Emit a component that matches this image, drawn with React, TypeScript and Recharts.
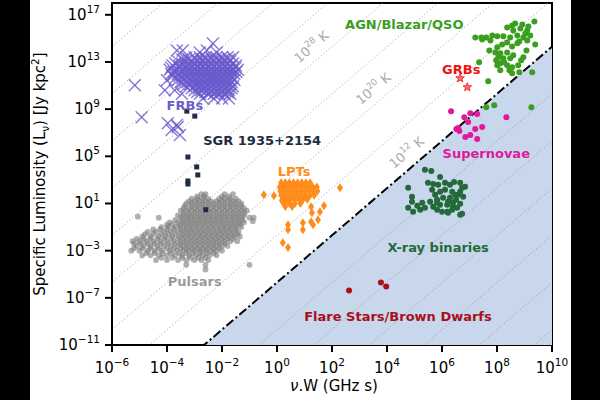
import { ScatterChart, Scatter, XAxis, YAxis, ReferenceArea } from 'recharts'

type P = [number, number]
type Row = [number, number[]]

// axis ticks
const xTicks = [1e-6, 1e-4, 1e-2, 1, 1e2, 1e4, 1e6, 1e8, 1e10]
const yTicks = [1e-11, 1e-7, 1e-3, 1e1, 1e5, 1e9, 1e13, 1e17]

// brightness temperature guides: log10(L) = offset + 2 log10(vW)
const tbOffsets = [-29.7, -25.7, -21.7, -17.7, -13.7, -9.7, -1.7, 2.3, 6.3, 10.3, 14.3, 18.3, 22.3, 26.3]
const coherentOffset = -5.7

// all values below are [log10(vW), log10(L)], rows are [log10(L), log10(vW)[]]
const frbRows: Row[] = [
  [14.57, [-2.33]],
  [13.98, [-3.64, -3.43, -2.55]],
  [13.8, [-2.81, -2.19]],
  [13.4, [-3.3, -3.0, -2.8, -2.6, -2.4, -2.2, -2.0, -1.8, -1.6]],
  [13.22, [-3.45, -3.2, -2.95, -2.75, -2.55, -2.35, -2.15, -1.95, -1.75]],
  [13.05, [-3.6, -3.35, -3.1, -2.9, -2.7, -2.5, -2.3, -2.1, -1.9, -1.7]],
  [12.87, [-3.7, -3.45, -3.2, -3.0, -2.8, -2.6, -2.4, -2.2, -2.0, -1.8, -1.6]],
  [12.7, [-3.8, -3.55, -3.3, -3.1, -2.9, -2.7, -2.5, -2.3, -2.1, -1.9, -1.7, -1.5]],
  [12.52, [-3.85, -3.55, -3.3, -3.1, -2.9, -2.7, -2.5, -2.3, -2.1, -1.9, -1.7, -1.5]],
  [12.35, [-3.9, -3.65, -3.4, -3.2, -3.0, -2.8, -2.6, -2.4, -2.2, -2.0, -1.8, -1.6, -1.42]],
  [12.17, [-3.75, -3.5, -3.25, -3.05, -2.85, -2.65, -2.45, -2.25, -2.05, -1.85, -1.65, -1.48]],
  [12.0, [-3.85, -3.6, -3.35, -3.15, -2.95, -2.75, -2.55, -2.35, -2.15, -1.95, -1.75, -1.55]],
  [11.82, [-3.8, -3.55, -3.3, -3.1, -2.9, -2.7, -2.5, -2.3, -2.1, -1.9, -1.7]],
  [11.65, [-3.7, -3.45, -3.2, -3.0, -2.8, -2.6, -2.4, -2.2, -2.0, -1.8, -1.6]],
  [11.47, [-3.6, -3.35, -3.1, -2.9, -2.7, -2.5, -2.3, -2.1, -1.9, -1.7, -1.55]],
  [11.3, [-3.5, -3.25, -3.05, -2.85, -2.65, -2.45, -2.25, -2.05, -1.85, -1.65]],
  [11.12, [-3.4, -3.15, -2.9, -2.7, -2.5, -2.3, -2.1, -1.9, -1.7]],
  [10.95, [-3.3, -3.0, -2.8, -2.6, -2.4, -2.2, -2.0, -1.8, -1.6]],
  [10.77, [-3.1, -2.85, -2.65, -2.45, -2.25, -2.05, -1.85, -1.65]],
  [10.6, [-4.08, -3.72, -3.0, -2.75, -2.55, -2.35, -2.15, -1.95, -1.75]],
  [10.45, [-2.9, -2.6, -2.4, -2.2, -2.0, -1.8]],
  [10.3, [-3.46, -2.8, -2.5, -2.3, -2.1, -1.9, -1.7]],
  [9.9, [-2.7, -2.3, -2.0, -1.75]],
]
const frbOutliers: P[] = [
  [-4.0, 11.45], [-5.17, 11.03], [-4.92, 8.32], [-3.97, 7.81], [-3.64, 7.65], [-3.83, 7.23], [-3.53, 6.81], [-3.61, 7.48],
]

const pulsarRows: Row[] = [
  [1.8, [-2.75, -2.6, -1.9, -1.6]],
  [1.6, [-2.9, -2.65, -2.0, -1.75]],
  [1.4, [-3.1, -2.9, -2.7, -2.5, -2.1, -1.9, -1.7, -1.5]],
  [1.2, [-3.2, -3.0, -2.8, -2.6, -2.4, -2.2, -2.0, -1.8, -1.6, -1.4]],
  [1.0, [-3.3, -3.1, -2.9, -2.7, -2.5, -2.3, -2.1, -1.9, -1.7, -1.5, -1.3]],
  [0.8, [-3.35, -3.1, -2.9, -2.7, -2.5, -2.3, -2.1, -1.9, -1.7, -1.5, -1.3]],
  [0.6, [-3.4, -3.2, -3.0, -2.8, -2.6, -2.4, -2.2, -2.0, -1.8, -1.6, -1.4, -1.2]],
  [0.4, [-3.5, -3.3, -3.1, -2.9, -2.7, -2.5, -2.3, -2.1, -1.9, -1.7, -1.5, -1.3, -1.1]],
  [0.2, [-3.4, -3.2, -3.0, -2.8, -2.6, -2.4, -2.2, -2.0, -1.8, -1.6, -1.4, -1.2]],
  [0.0, [-3.6, -3.4, -3.2, -3.0, -2.8, -2.6, -2.4, -2.2, -2.0, -1.8, -1.6, -1.4, -1.2]],
  [-0.2, [-4.3, -3.5, -3.3, -3.1, -2.9, -2.7, -2.5, -2.3, -2.1, -1.9, -1.7, -1.5, -1.3, -1.0, -0.85]],
  [-0.4, [-3.7, -3.45, -3.25, -3.05, -2.85, -2.65, -2.45, -2.25, -2.05, -1.85, -1.65, -1.45, -1.25]],
  [-0.6, [-3.9, -3.6, -3.4, -3.2, -3.0, -2.8, -2.6, -2.4, -2.2, -2.0, -1.8, -1.6, -1.4, -1.2]],
  [-0.8, [-4.0, -3.8, -3.55, -3.35, -3.15, -2.95, -2.75, -2.55, -2.35, -2.15, -1.95, -1.75, -1.55, -1.35]],
  [-1.0, [-4.2, -3.95, -3.7, -3.5, -3.3, -3.1, -2.9, -2.7, -2.5, -2.3, -2.1, -1.9, -1.7, -1.5, -1.3]],
  [-1.2, [-4.5, -4.25, -4.0, -3.75, -3.5, -3.3, -3.1, -2.9, -2.7, -2.5, -2.3, -2.1, -1.9, -1.7, -1.5]],
  [-1.4, [-4.7, -4.4, -4.1, -3.85, -3.6, -3.4, -3.2, -3.0, -2.8, -2.6, -2.4, -2.2, -2.0, -1.8, -1.6, -1.4]],
  [-1.6, [-4.8, -4.5, -4.2, -3.95, -3.7, -3.45, -3.25, -3.05, -2.85, -2.65, -2.45, -2.25, -2.05, -1.85, -1.65, -1.45]],
  [-1.8, [-4.9, -4.6, -4.3, -4.05, -3.8, -3.55, -3.35, -3.15, -2.95, -2.75, -2.55, -2.35, -2.15, -1.95, -1.75, -1.55, -1.35]],
  [-2.0, [-5.1, -4.85, -4.6, -4.35, -4.1, -3.85, -3.6, -3.4, -3.2, -3.0, -2.8, -2.6, -2.4, -2.2, -2.0, -1.8, -1.6]],
  [-2.2, [-5.25, -5.0, -4.75, -4.5, -4.25, -4.0, -3.75, -3.5, -3.3, -3.1, -2.9, -2.7, -2.5, -2.3, -2.1, -1.9, -1.7, -1.45]],
  [-2.4, [-5.2, -4.95, -4.7, -4.45, -4.2, -3.95, -3.7, -3.5, -3.3, -3.1, -2.9, -2.7, -2.5, -2.3, -2.1, -1.9]],
  [-2.6, [-5.1, -4.85, -4.6, -4.35, -4.1, -3.85, -3.6, -3.4, -3.2, -3.0, -2.8, -2.6, -2.4, -2.2, -2.0, -1.8]],
  [-2.8, [-5.2, -4.9, -4.6, -4.3, -4.0, -3.75, -3.5, -3.3, -3.1, -2.9, -2.7, -2.5, -2.3, -2.1]],
  [-3.0, [-5.3, -5.0, -4.7, -4.45, -4.2, -3.9, -3.65, -3.4, -3.2, -3.0, -2.8, -2.6, -2.4, -2.2, -2.0]],
  [-3.2, [-4.75, -4.45, -4.15, -3.85, -3.55, -3.3, -3.05, -2.8, -2.55, -2.3]],
  [-3.4, [-4.9, -4.6, -4.3, -4.0, -3.7, -3.45, -3.2, -2.95, -2.7, -2.45, -2.2]],
  [-3.6, [-4.2, -3.8, -3.45, -3.15, -2.85, -2.6]],
  [-3.8, [-4.4, -4.0, -3.6, -3.3, -3.0, -2.75, -2.5]],
  [-4.2, [-3.3, -2.6, -1.0]],
  [-4.6, [-2.6]],
]
const pulsarOutliers: P[] = [[-5.06, -0.12], [-0.88, -0.5]]

const sgrLog: P[] = [
  [-3.28, 8.83], [-2.99, 8.41], [-3.24, 4.94], [-2.92, 4.1], [-2.88, 3.42], [-3.24, 2.91], [-3.24, 2.65], [-2.59, 0.47],
]

const lptRows: Row[] = [
  [2.75, [0.15, 0.3, 0.45, 0.6, 0.75, 0.9, 1.05, 1.2]],
  [2.4, [0.1, 0.25, 0.4, 0.55, 0.7, 0.85, 1.0, 1.15, 1.3, 1.45]],
  [2.05, [0.12, 0.27, 0.42, 0.57, 0.72, 0.87, 1.02, 1.17, 1.32, 1.47]],
  [1.7, [0.15, 0.3, 0.45, 0.6, 0.75, 0.9, 1.05, 1.2, 1.35]],
  [1.35, [0.2, 0.35, 0.5, 0.65, 0.8, 0.95, 1.1]],
  [1.0, [0.25, 0.45, 0.65, 0.85]],
  [0.75, [0.3, 0.55]],
]
const lptOutliers: P[] = [
  [-0.48, 1.74], [-0.11, 1.65], [0.18, 1.23], [2.29, 2.33], [1.71, 0.81], [1.56, 0.3], [1.24, 0.72], [1.27, 0.21],
  [1.24, -0.55], [1.49, -0.38], [0.4, -0.8], [0.4, -1.22], [0.94, -0.63], [0.94, -1.22], [0.21, -2.32], [0.4, -2.74], [1.31, -0.8],
]

const agnLog: P[] = [
  [9.36, 16.43], [8.66, 16.26], [8.37, 15.93], [8.85, 15.84], [9.1, 15.67], [9.21, 15.25], [8.96, 15.08], [8.74, 15.25],
  [8.48, 15.08], [8.23, 15.17], [8.01, 15.17], [7.83, 15.25], [7.61, 15.08], [7.46, 14.91], [7.21, 15.08], [9.39, 14.49],
  [8.74, 14.58], [8.37, 14.66], [8.01, 14.24], [7.94, 13.81], [8.12, 13.73], [8.37, 13.81], [8.59, 13.56], [8.96, 13.39],
  [8.23, 13.31], [8.05, 13.39], [8.12, 12.89], [8.01, 12.72], [8.37, 12.72], [8.55, 12.55], [8.77, 12.72], [8.55, 12.04],
  [8.81, 12.12], [9.28, 12.12], [7.35, 12.97], [7.68, 11.36], [7.61, 9.16], [7.9, 9.33], [9.25, 9.16], [8.55, 16.1],
  [8.92, 16.18], [9.14, 16.01], [9.03, 15.42], [8.59, 15.67], [8.81, 14.74], [9.1, 14.83], [8.55, 14.32], [8.19, 14.49],
  [7.72, 13.98], [8.48, 13.31], [8.26, 12.97], [9.07, 13.98], [7.97, 13.14], [8.88, 13.14], [8.45, 12.29], [8.12, 12.29],
  [7.43, 15.08], [7.76, 14.83],
]

const grbLog: P[] = [[6.66, 11.62], [6.92, 10.86]]

const snLog: P[] = [
  [6.33, 8.83], [6.81, 8.32], [7.03, 8.66], [7.28, 8.58], [6.95, 7.9], [6.59, 7.39], [6.63, 7.14], [6.52, 7.31],
  [7.21, 7.31], [7.46, 7.48], [7.03, 6.8], [6.85, 6.63], [7.28, 6.46], [8.34, 8.32],
]

const xrbLog: P[] = [
  [5.38, 3.85], [5.61, 3.76], [5.93, 3.25], [5.49, 2.75], [5.68, 2.66], [5.86, 2.58], [6.11, 2.75], [6.29, 2.58],
  [6.44, 2.83], [6.66, 2.75], [6.84, 2.41], [4.77, 2.33], [5.64, 2.16], [5.93, 1.99], [6.37, 1.99], [6.59, 1.74],
  [6.66, 1.99], [4.91, 1.57], [4.91, 1.14], [5.28, 1.06], [5.57, 1.14], [5.82, 1.31], [6.04, 1.48], [6.22, 1.14],
  [6.4, 1.06], [6.66, 0.97], [4.77, 0.64], [4.95, 0.3], [5.21, 0.47], [5.82, 0.47], [6.19, 0.3], [6.66, 0.04],
  [6.19, 0.89], [5.82, 1.06], [6.4, 0.72], [6.73, 0.13], [6.22, 0.21], [6.0, 0.3], [6.48, 1.74], [6.77, 1.57],
  [6.11, 2.16], [6.29, 1.48], [6.51, 1.31], [5.93, 0.89], [6.37, 0.47], [6.55, 0.64], [5.68, 0.72], [5.38, 0.64],
  [5.1, 0.81], [6.73, 2.33], [5.75, 1.74],
]

const flareLog: P[] = [[2.62, -6.38], [3.78, -5.71], [3.97, -6.05]]

const toPts = (arr: P[]) => arr.map(([a, b]) => ({ x: 10 ** a, y: 10 ** b }))
const fromRows = (rows: Row[]): P[] => rows.flatMap(([ly, xs]) => xs.map((lx) => [lx, ly] as P))
const lineThrough = (off: number) => [
  { x: 1e-7, y: 10 ** (off - 14) },
  { x: 1e11, y: 10 ** (off + 22) },
]

const FONT = 'DejaVu Sans, Verdana, sans-serif'

const annotations = [
  { lx: -3.35, ly: 9.34, text: 'FRBs', color: '#6a5acd' },
  { lx: -0.54, ly: 6.38, text: 'SGR 1935+2154', color: '#1f2d42' },
  { lx: 0.62, ly: 3.76, text: 'LPTs', color: '#ff8c1a' },
  { lx: -2.99, ly: -5.6, text: 'Pulsars', color: '#9a9a9a' },
  { lx: 4.63, ly: 16.26, text: 'AGN/Blazar/QSO', color: '#3a9e1e' },
  { lx: 6.7, ly: 12.38, text: 'GRBs', color: '#f01010' },
  { lx: 7.61, ly: 5.28, text: 'Supernovae', color: '#e0189f' },
  { lx: 5.86, ly: -2.66, text: 'X-ray binaries', color: '#24693a' },
  { lx: 4.4, ly: -8.57, text: 'Flare Stars/Brown Dwarfs', color: '#a8101c' },
]
const tbLabels = [
  { lx: 1.24, ly: 14.32, exp: '28' },
  { lx: 3.49, ly: 10.77, exp: '20' },
  { lx: 4.7, ly: 5.36, exp: '12' },
]

const Empty = () => <g />

const Cross = (p: any) => {
  const s = 6
  return (
    <g stroke="#6a5acd" strokeWidth={1.4} strokeOpacity={0.8}>
      <line x1={p.cx - s} y1={p.cy - s} x2={p.cx + s} y2={p.cy + s} />
      <line x1={p.cx - s} y1={p.cy + s} x2={p.cx + s} y2={p.cy - s} />
    </g>
  )
}

const Diamond = (p: any) => (
  <polygon
    points={`${p.cx},${p.cy - 4.5} ${p.cx + 3},${p.cy} ${p.cx},${p.cy + 4.5} ${p.cx - 3},${p.cy}`}
    fill="#ff8c1a"
  />
)

const Square = (p: any) => <rect x={p.cx - 2.5} y={p.cy - 2.5} width={5} height={5} fill="#1f2d42" />

const Star = (p: any) => {
  const pts: string[] = []
  for (let i = 0; i < 10; i++) {
    const r = i % 2 === 0 ? 4.5 : 1.9
    const a = -Math.PI / 2 + (i * Math.PI) / 5
    pts.push(`${p.cx + r * Math.cos(a)},${p.cy + r * Math.sin(a)}`)
  }
  return <polygon points={pts.join(' ')} fill="#ff7070" stroke="#f01010" strokeWidth={0.8} />
}

const dot = (color: string, r: number, opacity = 1) => (p: any) =>
  <circle cx={p.cx} cy={p.cy} r={r} fill={color} fillOpacity={opacity} />

const expText = (v: number) => {
  const e = Math.round(Math.log10(v))
  return e < 0 ? '\u2212' + Math.abs(e) : String(e)
}

const XTick = (p: any) => (
  <text x={p.x} y={p.y + 17} textAnchor="middle" fontSize={15} fontFamily={FONT} fill="#000">
    10<tspan dy={-7} fontSize={10.5}>{expText(p.payload.value)}</tspan>
  </text>
)

const YTick = (p: any) => (
  <text x={p.x} y={p.y + 5} textAnchor="end" fontSize={15} fontFamily={FONT} fill="#000">
    10<tspan dy={-7} fontSize={10.5}>{expText(p.payload.value)}</tspan>
  </text>
)

const XTitle = () => (
  <text x={304} y={391} textAnchor="middle" fontSize={15} fontFamily={FONT} fill="#000">
    <tspan fontStyle="italic">ν</tspan>.W (GHz s)
  </text>
)

const YTitle = () => (
  <text x={15} y={174} transform="rotate(-90, 15, 174)" textAnchor="middle" fontSize={15} fontFamily={FONT} fill="#000">
    Specific Luminosity (L<tspan dy={4} fontSize={10.5}>ν</tspan>
    <tspan dy={-4}>) [Jy kpc</tspan>
    <tspan dy={-6} fontSize={10.5}>2</tspan>
    <tspan dy={6}>]</tspan>
  </text>
)

export default function App() {
  const frb = toPts([...fromRows(frbRows), ...frbOutliers])
  const pulsars = toPts([...fromRows(pulsarRows), ...pulsarOutliers])
  const lpt = toPts([...fromRows(lptRows), ...lptOutliers])
  const region = [
    { x: 1e-7, y: 10 ** (coherentOffset - 14) },
    { x: 1e11, y: 10 ** (coherentOffset + 22) },
    { x: 1e11, y: 1e-20 },
  ]

  return (
    <div style={{ position: 'absolute', left: 0, top: 0, width: 600, height: 400, background: '#000' }}>
      <div style={{ position: 'absolute', left: 30, top: 0, width: 541, height: 400, background: '#fff' }}>
        <ScatterChart width={541} height={400} margin={{ top: 3, right: 19, bottom: 0, left: 0 }}>
          <XAxis
            type="number"
            dataKey="x"
            scale="log"
            domain={[1e-6, 1e10]}
            ticks={xTicks}
            interval={0}
            allowDataOverflow
            height={55}
            axisLine={{ stroke: '#000', strokeWidth: 2 }}
            tickLine={{ stroke: '#000', strokeWidth: 2 }}
            tickSize={7}
            tickMargin={4}
            tick={<XTick />}
            label={<XTitle />}
          />
          <YAxis
            type="number"
            dataKey="y"
            scale="log"
            domain={[1e-11, 1e18]}
            ticks={yTicks}
            interval={0}
            allowDataOverflow
            width={82}
            axisLine={{ stroke: '#000', strokeWidth: 2 }}
            tickLine={{ stroke: '#000', strokeWidth: 2 }}
            tickSize={7}
            tickMargin={5}
            tick={<YTick />}
            label={<YTitle />}
          />

          <Scatter
            data={region}
            line={{ fill: '#c8d7eb', stroke: 'none' }}
            lineType="joint"
            shape={Empty}
            isAnimationActive={false}
          />
          {tbOffsets.map((o) => (
            <Scatter
              key={o}
              data={lineThrough(o)}
              line={{ stroke: '#9a9a9a', strokeWidth: 1, strokeDasharray: '1 2.5' }}
              lineType="joint"
              shape={Empty}
              isAnimationActive={false}
            />
          ))}
          <Scatter
            data={lineThrough(coherentOffset)}
            line={{ stroke: '#000', strokeWidth: 2, strokeDasharray: '9 3 2 3' }}
            lineType="joint"
            shape={Empty}
            isAnimationActive={false}
          />

          <Scatter data={pulsars} shape={dot('#7a7a7a', 2.9, 0.6)} isAnimationActive={false} />
          <Scatter data={frb} shape={Cross} isAnimationActive={false} />
          <Scatter data={toPts(sgrLog)} shape={Square} isAnimationActive={false} />
          <Scatter data={lpt} shape={Diamond} isAnimationActive={false} />
          <Scatter data={toPts(agnLog)} shape={dot('#3a9e1e', 3)} isAnimationActive={false} />
          <Scatter data={toPts(grbLog)} shape={Star} isAnimationActive={false} />
          <Scatter data={toPts(snLog)} shape={dot('#e0189f', 3)} isAnimationActive={false} />
          <Scatter data={toPts(xrbLog)} shape={dot('#24693a', 3)} isAnimationActive={false} />
          <Scatter data={toPts(flareLog)} shape={dot('#a8101c', 3)} isAnimationActive={false} />

          {tbLabels.map((t) => (
            <Scatter
              key={t.exp}
              data={[{ x: 10 ** t.lx, y: 10 ** t.ly }]}
              isAnimationActive={false}
              shape={(p: any) => (
                <text
                  x={p.cx}
                  y={p.cy + 5}
                  transform={`rotate(-40.6 ${p.cx} ${p.cy})`}
                  textAnchor="middle"
                  fontSize={13}
                  fontFamily={FONT}
                  fill="#aaaaaa"
                >
                  10<tspan dy={-6} fontSize={9}>{t.exp}</tspan>
                  <tspan dy={6}> K</tspan>
                </text>
              )}
            />
          ))}
          {annotations.map((a) => (
            <Scatter
              key={a.text}
              data={[{ x: 10 ** a.lx, y: 10 ** a.ly }]}
              isAnimationActive={false}
              shape={(p: any) => (
                <text x={p.cx} y={p.cy + 5} textAnchor="middle" fontSize={13} fontWeight="bold" fontFamily={FONT} fill={a.color}>
                  {a.text}
                </text>
              )}
            />
          ))}

          <ReferenceArea x1={1e-6} x2={1e10} y1={1e-11} y2={1e18} fill="none" stroke="#000" strokeWidth={2} />
        </ScatterChart>
      </div>
    </div>
  )
}
